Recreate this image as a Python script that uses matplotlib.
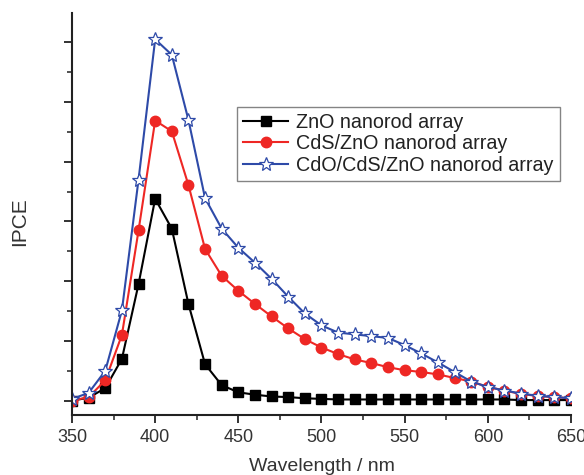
import matplotlib
matplotlib.use("Agg")
import matplotlib.pyplot as plt
from matplotlib.ticker import MultipleLocator, NullFormatter

plt.rcParams["font.family"] = ["Liberation Sans", "DejaVu Sans"]

# wavelength (nm) and IPCE readings (arbitrary units)
wavelength = [350, 360, 370, 380, 390, 400, 410, 420, 430, 440, 450, 460, 470, 480,
              490, 500, 510, 520, 530, 540, 550, 560, 570, 580, 590, 600, 610, 620,
              630, 640, 650]
zno = [0.00, 0.05, 0.21, 0.70, 1.95, 3.38, 2.88, 1.62, 0.61, 0.26, 0.14, 0.10, 0.07, 0.06,
       0.04, 0.03, 0.02, 0.02, 0.02, 0.02, 0.02, 0.02, 0.02, 0.02, 0.02, 0.02, 0.02, 0.01,
       0.01, 0.01, 0.01]
cds_zno = [0.00, 0.06, 0.34, 1.10, 2.85, 4.69, 4.51, 3.61, 2.54, 2.09, 1.84, 1.62, 1.41, 1.21,
           1.03, 0.89, 0.78, 0.69, 0.63, 0.56, 0.51, 0.48, 0.44, 0.38, 0.32, 0.23, 0.17, 0.11,
           0.08, 0.06, 0.04]
cdo_cds_zno = [0.03, 0.13, 0.50, 1.51, 3.70, 6.05, 5.79, 4.70, 3.39, 2.88, 2.56, 2.31, 2.04, 1.74,
               1.46, 1.26, 1.14, 1.11, 1.08, 1.05, 0.93, 0.79, 0.64, 0.48, 0.32, 0.23, 0.17, 0.12,
               0.08, 0.06, 0.04]
labels = ["ZnO nanorod array", "CdS/ZnO nanorod array", "CdO/CdS/ZnO nanorod array"]

fig = plt.figure(figsize=(5.84, 4.75), dpi=100)
ax = fig.add_axes([0.1233, 0.1263, 0.8544, 0.8463])

ax.plot(wavelength, zno, color="black", lw=1.5, marker="s", ms=6.5, label=labels[0])
ax.plot(wavelength, cds_zno, color="#ee2724", lw=1.5, marker="o", ms=7.5, label=labels[1])
ax.plot(wavelength, cdo_cds_zno, color="#2e4aa8", lw=1.5, marker="*", ms=10,
        mfc="white", mec="#2e4aa8", mew=0.9, label=labels[2])

ax.set_xlim(350, 650)
ax.set_ylim(-0.24, 6.49)
ax.xaxis.set_major_locator(MultipleLocator(50))
ax.xaxis.set_minor_locator(MultipleLocator(25))
ax.yaxis.set_major_locator(MultipleLocator(1))
ax.yaxis.set_minor_locator(MultipleLocator(0.5))
ax.yaxis.set_major_formatter(NullFormatter())

for side in ["top", "right"]:
    ax.spines[side].set_visible(False)
for side in ["left", "bottom"]:
    ax.spines[side].set_linewidth(1.5)
    ax.spines[side].set_color("#222222")

ax.tick_params(which="major", direction="out", length=6, width=1.3, color="#222222",
               labelsize=13, labelcolor="#333333", pad=4)
ax.tick_params(which="minor", direction="out", length=3.5, width=1.1, color="#222222")

ax.set_xlabel("Wavelength / nm", fontsize=14, color="#333333", labelpad=8.5)
ax.set_ylabel("IPCE", fontsize=15, color="#333333")
ax.yaxis.set_label_coords(-0.085, 0.48)

leg = ax.legend(loc="upper left", bbox_to_anchor=(0.331, 0.766), fontsize=14.2,
                frameon=True, fancybox=False, edgecolor="#666666", borderpad=0.3,
                handlelength=2.3, handletextpad=0.4, labelspacing=0.12, borderaxespad=0)
leg.get_frame().set_linewidth(1.0)
for t in leg.get_texts():
    t.set_color("#222222")

fig.savefig("out.png", dpi=100)
